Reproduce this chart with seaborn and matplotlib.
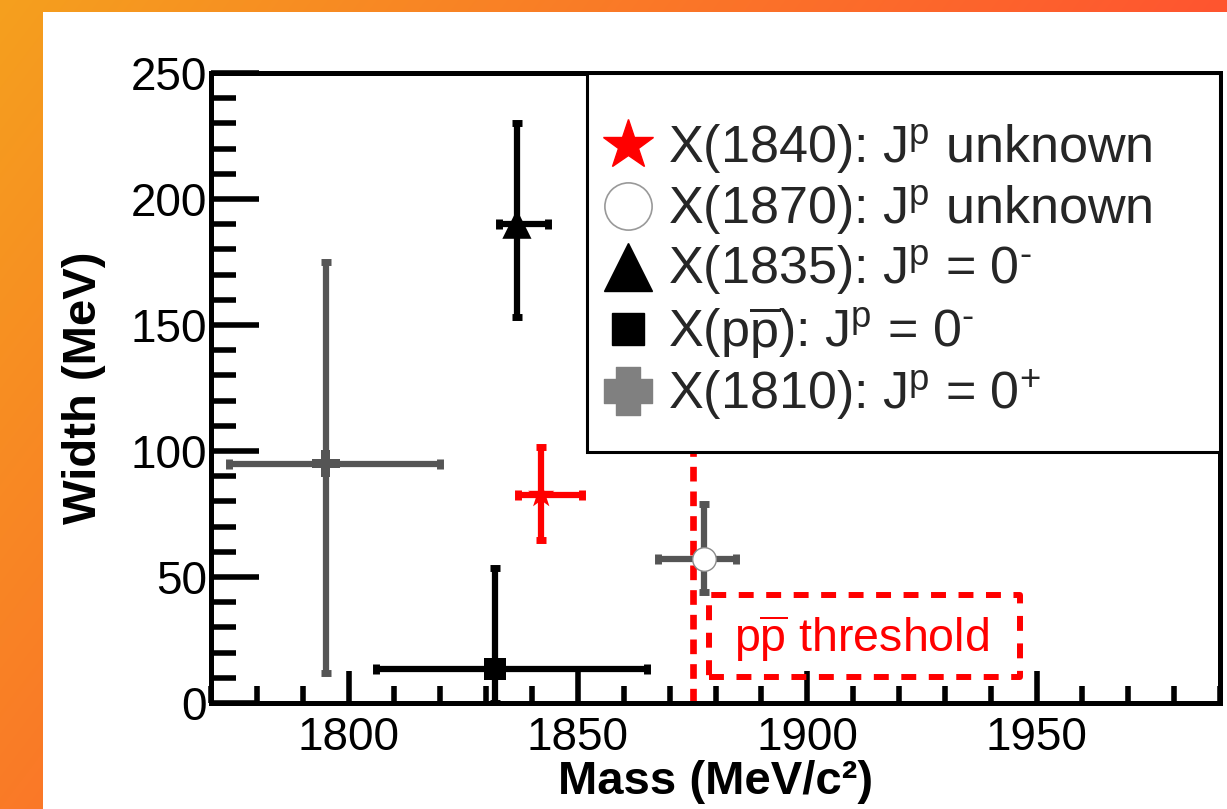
import numpy as np
import pandas as pd
import matplotlib
matplotlib.use("Agg")
import matplotlib.pyplot as plt
import seaborn as sns
from matplotlib.lines import Line2D
from matplotlib.patches import Rectangle
from matplotlib.path import Path
from matplotlib.ticker import MultipleLocator

# ---- resonance measurements: mass and width with asymmetric errors (MeV) ----
states = ["X(1840)", "X(1870)", "X(1835)", "X(pp)", "X(1810)"]
mass = [1842.0, 1877.5, 1836.7, 1832.0, 1795.0]
mass_err_lo = [5.0, 10.0, 4.0, 26.0, 21.0]
mass_err_hi = [9.0, 7.0, 6.7, 33.0, 25.0]
width = [82.5, 57.0, 190.0, 13.5, 95.0]
width_err_lo = [18.0, 13.0, 37.0, 13.5, 83.0]
width_err_hi = [19.0, 22.0, 40.0, 40.0, 80.0]

legend_labels = [
    r"X(1840): J$^{\mathrm{p}}$ unknown",
    r"X(1870): J$^{\mathrm{p}}$ unknown",
    "X(1835): J$^{\\mathrm{p}}$ = 0$^{\u2010}$",
    "X(p$\\overline{\\mathrm{p}}$): J$^{\\mathrm{p}}$ = 0$^{\u2010}$",
    r"X(1810): J$^{\mathrm{p}}$ = 0$^{+}$",
]

# p pbar threshold and its annotation box (MeV, MeV)
threshold_mass = 1875.2
threshold_top = 100.0
box_mass = [1878.5, 1946.3]
box_width = [10.3, 42.9]

df = pd.DataFrame({
    "state": states, "mass": mass, "width": width,
    "mlo": mass_err_lo, "mhi": mass_err_hi,
    "wlo": width_err_lo, "whi": width_err_hi,
})

# ---- style ----
sns.set_theme(style="ticks")
plt.rcParams["font.family"] = ["Liberation Sans", "DejaVu Sans"]
plt.rcParams["mathtext.fontset"] = "custom"
plt.rcParams["mathtext.rm"] = "Liberation Sans"
plt.rcParams["mathtext.it"] = "Liberation Sans:italic"
plt.rcParams["mathtext.bf"] = "Liberation Sans:bold"

# a thick filled cross
a = 0.25
fat_plus = Path([(-a, -0.5), (a, -0.5), (a, -a), (0.5, -a), (0.5, a), (a, a),
                 (a, 0.5), (-a, 0.5), (-a, a), (-0.5, a), (-0.5, -a), (-a, -a),
                 (-a, -0.5)], closed=True)

bar_colors = ["#ff0000", "#555555", "#000000", "#000000", "#555555"]
marker_style = [
    dict(marker="*", s=20**2, color="#ff0000", edgecolor="none", linewidth=0),
    dict(marker="o", s=17**2, color="white", edgecolor="#8a8a8a", linewidth=1.0),
    dict(marker="^", s=21**2, color="black", edgecolor="none", linewidth=0),
    dict(marker="s", s=16**2, color="black", edgecolor="none", linewidth=0),
    dict(marker="P", s=20**2, color="#555555", edgecolor="none", linewidth=0),
]

# ---- figure with gradient frame ----
W, H = 1227, 809
fig = plt.figure(figsize=(W / 100, H / 100), dpi=100)
bg = fig.add_axes([0, 0, 1, 1], zorder=-10)
u = np.linspace(0, 1, W)[None, :]
v = np.linspace(0, 1, H)[:, None]
t = np.clip(u + 0.5 * v, 0, 1)
c0 = np.array([0xF5, 0xA0, 0x1E]) / 255
c1 = np.array([0xFF, 0x55, 0x30]) / 255
bg.imshow(c0 + (c1 - c0) * t[..., None], aspect="auto", extent=[0, 1, 0, 1], origin="upper")
bg.add_patch(Rectangle((43 / W, 0), 1, 1 - 12 / H, facecolor="white", edgecolor="none"))
bg.set_xlim(0, 1)
bg.set_ylim(0, 1)
bg.axis("off")

ax = fig.add_axes([211 / W, 1 - 703 / H, (1220 - 211) / W, (703 - 73) / H])
ax.set_facecolor("white")

# threshold line
ax.vlines(threshold_mass, 0, threshold_top, colors="#ff0000", linewidth=4.8,
          linestyles=(0, (2.2, 1.5)), zorder=2)

# error bars
for i, row in df.iterrows():
    ax.errorbar(row["mass"], row["width"],
                xerr=[[row["mlo"]], [row["mhi"]]],
                yerr=[[row["wlo"]], [row["whi"]]],
                fmt="none", ecolor=bar_colors[i], elinewidth=4.5,
                capsize=3.3, capthick=5, zorder=3)

# central markers
for i, row in df.iterrows():
    sns.scatterplot(data=df.iloc[[i]], x="mass", y="width", ax=ax, zorder=4,
                    legend=False, **marker_style[i])

# threshold label box
ax.add_patch(Rectangle((box_mass[0], box_width[0]), box_mass[1] - box_mass[0],
                       box_width[1] - box_width[0], fill=False, edgecolor="#ff0000",
                       linewidth=4.3, linestyle=(0, (2.5, 2.1)), joinstyle="round",
                       zorder=2))
ax.text(np.mean(box_mass) - 0.5, 19.8, r"p$\overline{\mathrm{p}}$ threshold", color="#ff0000",
        fontsize=33.5, ha="center", va="baseline", zorder=3)

# axes
ax.set_xlim(1770, 1990)
ax.set_ylim(0, 250)
ax.xaxis.set_major_locator(MultipleLocator(50))
ax.xaxis.set_minor_locator(MultipleLocator(10))
ax.yaxis.set_major_locator(MultipleLocator(50))
ax.yaxis.set_minor_locator(MultipleLocator(10))
for sp in ax.spines.values():
    sp.set_visible(True)
    sp.set_color("black")
    sp.set_linewidth(3.6)
ax.tick_params(axis="both", which="both", direction="in", top=False, right=False,
               color="black", width=4, labelsize=33, labelcolor="black")
ax.tick_params(axis="y", which="major", length=34.5, pad=3)
ax.tick_params(axis="y", which="minor", length=18)
ax.tick_params(axis="x", which="major", length=23, pad=9)
ax.tick_params(axis="x", which="minor", length=12)

ax.set_xlabel("Mass (MeV/c²)", fontsize=34, fontweight="bold", color="black")
ax.set_ylabel("Width (MeV)", fontsize=34, fontweight="bold", color="black")
ax.xaxis.set_label_coords(0.5, -0.09)
ax.yaxis.set_label_coords(-0.104, 0.5)

# legend with its frame
ax.add_patch(Rectangle((0.3727, 0.398), 0.6273, 0.602, transform=ax.transAxes,
                       facecolor="white", edgecolor="black", linewidth=2.2,
                       zorder=6, clip_on=False))
handles = [
    Line2D([], [], ls="none", marker="*", ms=38, color="#ff0000", mec="#ff0000"),
    Line2D([], [], ls="none", marker="o", ms=34, mfc="white", mec="#999999", mew=1.2),
    Line2D([], [], ls="none", marker="^", ms=34, color="black"),
    Line2D([], [], ls="none", marker="s", ms=23, color="black"),
    Line2D([], [], ls="none", marker=fat_plus, ms=34, color="#808080"),
]
leg = ax.legend(handles, legend_labels, loc="upper left", bbox_to_anchor=(0.3875, 0.921),
                frameon=False, borderpad=0, borderaxespad=0, handlelength=1.0,
                handletextpad=0.27, labelspacing=0.12, fontsize=37.5, numpoints=1)
leg.set_zorder(7)

fig.savefig("out.png", dpi=100)
